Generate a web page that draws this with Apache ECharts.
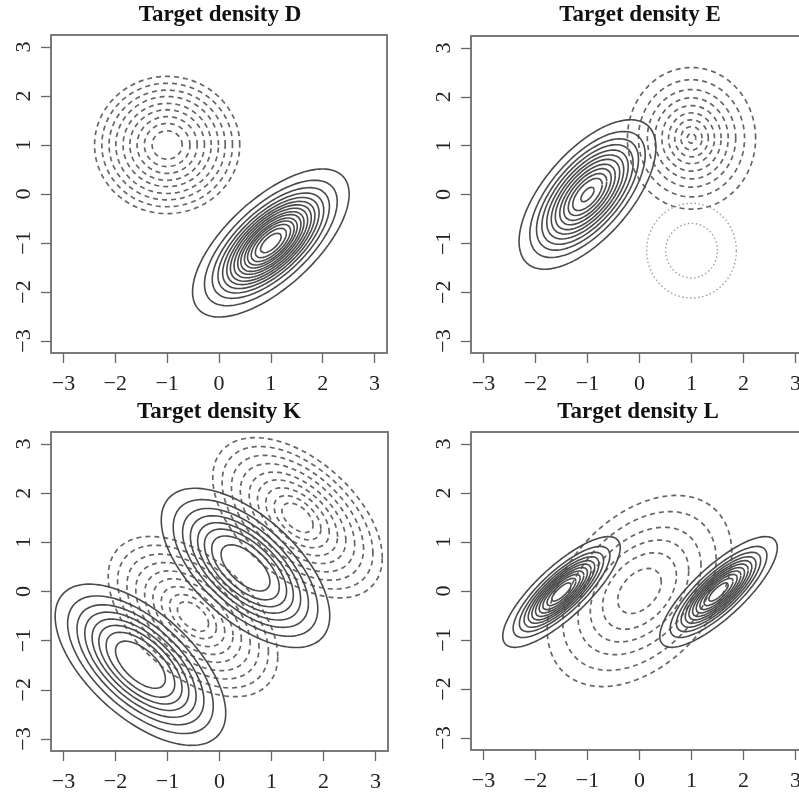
<!DOCTYPE html>
<html>
<head>
<meta charset="utf-8">
<script src="https://cdn.jsdelivr.net/npm/echarts@6/dist/echarts.min.js"></script>
<style>
html,body{margin:0;padding:0;background:#fff;}
#chart{width:799px;height:794px;}
</style>
</head>
<body>
<div id="chart"></div>
<script>
// ---- data ----
const titles = ['Target density D', 'Target density E', 'Target density K', 'Target density L'];
const tickValues = [-3, -2, -1, 0, 1, 2, 3];

// each component: panel, centre, scale (sx, sy), correlation, line style, Mahalanobis radii of drawn contours
const D_dashed = { panel: 0, center: [-1, 1], scale: [1, 1], rho: 0, style: 'dashed',
  rings: [1.40, 1.26, 1.12, 0.99, 0.85, 0.72, 0.58, 0.44, 0.29] };
const D_solid = { panel: 0, center: [1, -1], scale: [1, 1], rho: 0.66, style: 'solid',
  rings: [1.51, 1.28, 1.13, 1.02, 0.93, 0.85, 0.78, 0.71, 0.64, 0.58, 0.51, 0.45, 0.38, 0.30, 0.20] };

const E_solid = { panel: 1, center: [-1, 0], scale: [0.86, 1], rho: 0.63, style: 'solid',
  rings: [1.53, 1.29, 1.14, 1.02, 0.91, 0.81, 0.72, 0.62, 0.53, 0.43, 0.33, 0.15] };
const E_dashed = { panel: 1, center: [1, 1.15], scale: [0.85, 1], rho: 0, style: 'dashed',
  rings: [1.45, 1.20, 1.0, 0.83, 0.67, 0.52, 0.38, 0.24, 0.10] };
const E_dotted = { panel: 1, center: [1, -1.15], scale: [0.89, 1], rho: 0, style: 'dotted',
  rings: [0.97, 0.56] };

const K_solid1 = { panel: 2, center: [-1.52, -1.49], scale: [1, 1], rho: -0.6, style: 'solid',
  rings: [1.64, 1.40, 1.22, 1.07, 0.93, 0.80, 0.66, 0.48] };
const K_solid2 = { panel: 2, center: [0.5, 0.48], scale: [1, 1], rho: -0.6, style: 'solid',
  rings: [1.62, 1.39, 1.21, 1.06, 0.92, 0.79, 0.65, 0.47] };
const K_dashed1 = { panel: 2, center: [-0.51, -0.51], scale: [1, 1], rho: -0.5, style: 'dashed',
  rings: [1.63, 1.45, 1.27, 1.10, 0.93, 0.77, 0.61, 0.45, 0.30] };
const K_dashed2 = { panel: 2, center: [1.5, 1.5], scale: [1, 1], rho: -0.5, style: 'dashed',
  rings: [1.63, 1.45, 1.27, 1.10, 0.93, 0.77, 0.61, 0.45, 0.30] };

const L_dashed = { panel: 3, center: [0, 0], scale: [0.91, 1], rho: 0.4, style: 'dashed',
  rings: [1.95, 1.62, 1.30, 1.04, 0.78, 0.46] };
const L_solid1 = { panel: 3, center: [-1.5, -0.02], scale: [1, 1], rho: 0.8, style: 'solid',
  rings: [1.13, 0.93, 0.81, 0.72, 0.64, 0.57, 0.50, 0.43, 0.36, 0.28, 0.19] };
const L_solid2 = { panel: 3, center: [1.52, -0.02], scale: [1, 1], rho: 0.8, style: 'solid',
  rings: [1.13, 0.93, 0.81, 0.72, 0.64, 0.57, 0.50, 0.43, 0.36, 0.28, 0.19] };

const components = [D_dashed, D_solid, E_dashed, E_dotted, E_solid,
  K_dashed1, K_dashed2, K_solid1, K_solid2, L_dashed, L_solid1, L_solid2];

// axis ranges: right-hand panels are cut by the page edge
const xRanges = [[-3.24, 3.24], [-3.24, 3.067], [-3.24, 3.24], [-3.24, 3.067]];
const yRange = [-3.245, 3.245];

// ---- layout ----
const grids = [
  { left: 51, top: 35, width: 336, height: 318 },
  { left: 471, top: 36, width: 328, height: 317 },
  { left: 51, top: 432, width: 337, height: 319 },
  { left: 471, top: 432, width: 328, height: 318 }
];
const closedRight = [true, false, true, false];
const titlePos = [[220, 15], [640, 15], [219, 412], [638, 412]];

const boxColor = '#7a7a7a';
const styles = {
  solid: { color: '#4a4a4a', width: 1.6, type: 'solid' },
  dashed: { color: '#666666', width: 1.7, type: [5, 4] },
  dotted: { color: '#a0a0a0', width: 1.4, type: [1.5, 2.5] }
};

function ellipse(c, r) {
  const pts = [];
  const n = 160;
  const s = Math.sqrt(1 - c.rho * c.rho);
  for (let i = 0; i <= n; i++) {
    const t = 2 * Math.PI * i / n;
    const z1 = r * Math.cos(t), z2 = r * Math.sin(t);
    pts.push([c.center[0] + c.scale[0] * z1, c.center[1] + c.scale[1] * (c.rho * z1 + s * z2)]);
  }
  return pts;
}

const series = [];
components.forEach(c => {
  c.rings.forEach(r => {
    series.push({
      type: 'line', xAxisIndex: c.panel * 2, yAxisIndex: c.panel * 2,
      data: ellipse(c, r), showSymbol: false, symbol: 'none', smooth: false,
      silent: true, animation: false, clip: true,
      lineStyle: styles[c.style]
    });
  });
});

const fmt = v => (v < 0 ? '\u2212' + (-v) : String(v));
const labelFont = { fontFamily: 'Liberation Serif', fontSize: 22, color: '#222' };
const tickStyle = { show: true, customValues: tickValues, length: 10, lineStyle: { color: '#666', width: 1.3 } };
const boxLine = { show: true, onZero: false, lineStyle: { color: boxColor, width: 2 } };

const xAxes = [];
const yAxes = [];
grids.forEach((g, i) => {
  xAxes.push({
    gridIndex: i, type: 'value', min: xRanges[i][0], max: xRanges[i][1], position: 'bottom',
    splitLine: { show: false }, axisLine: boxLine, axisTick: tickStyle,
    axisLabel: Object.assign({ customValues: tickValues, formatter: fmt, margin: 20, hideOverlap: false }, labelFont)
  });
  xAxes.push({
    gridIndex: i, type: 'value', min: xRanges[i][0], max: xRanges[i][1], position: 'top',
    splitLine: { show: false }, axisLine: boxLine, axisTick: { show: false }, axisLabel: { show: false }
  });
  yAxes.push({
    gridIndex: i, type: 'value', min: yRange[0], max: yRange[1], position: 'left',
    splitLine: { show: false }, axisLine: boxLine, axisTick: tickStyle,
    axisLabel: Object.assign({ customValues: tickValues, formatter: fmt, margin: 16, rotate: 90 }, labelFont)
  });
  yAxes.push({
    gridIndex: i, type: 'value', min: yRange[0], max: yRange[1], position: 'right',
    splitLine: { show: false }, axisLine: Object.assign({}, boxLine, { show: closedRight[i] }),
    axisTick: { show: false }, axisLabel: { show: false }
  });
});

const chart = echarts.init(document.getElementById('chart'), null, { renderer: 'canvas' });
chart.setOption({
  animation: false,
  backgroundColor: '#ffffff',
  grid: grids.map(g => Object.assign({ show: false, containLabel: false, outerBoundsMode: 'none' }, g)),
  xAxis: xAxes,
  yAxis: yAxes,
  graphic: titles.map((t, i) => ({
    type: 'text', x: titlePos[i][0], y: titlePos[i][1],
    style: { text: t, textAlign: 'center', textVerticalAlign: 'middle',
      fontFamily: 'Liberation Serif', fontWeight: 'bold', fontSize: 23, fill: '#111' }
  })),
  series: series
});
</script>
</body>
</html>
